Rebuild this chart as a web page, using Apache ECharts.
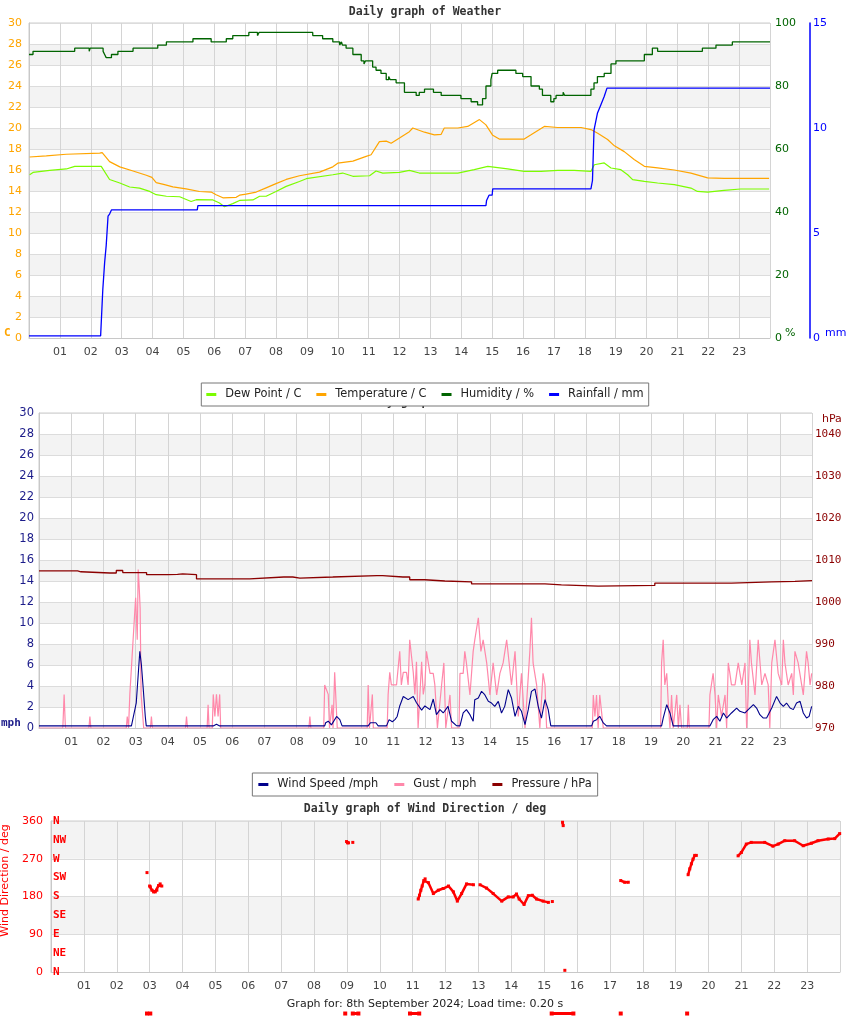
<!DOCTYPE html>
<html>
<head>
<meta charset="utf-8">
<script src="https://cdn.jsdelivr.net/npm/echarts@6/dist/echarts.min.js"></script>
<style>html,body{margin:0;padding:0;background:#fff}#c{width:850px;height:1017px}</style>
</head>
<body>
<div id="c"></div>
<script>
// ---------- DATA (hour of day, value) ----------
var hourTicks = ['01','02','03','04','05','06','07','08','09','10','11','12','13','14','15','16','17','18','19','20','21','22','23'];
var compassLabels = ['N','NE','E','SE','S','SW','W','NW','N'];

var dewPoint = [[0.02,15.55],[0.13,15.77],[0.67,15.96],[1.21,16.1],[1.48,16.34],[2.34,16.35],[2.37,16.4],[2.61,15.1],[2.94,14.76],[3.26,14.38],[3.58,14.28],[3.91,13.96],[4.12,13.65],[4.45,13.5],[4.88,13.45],[5.25,13.0],[5.42,13.17],[5.96,13.15],[6.17,12.85],[6.33,12.5],[6.6,12.8],[6.82,13.1],[7.25,13.15],[7.47,13.5],[7.68,13.5],[8.0,13.96],[8.33,14.44],[8.76,14.9],[8.98,15.17],[9.84,15.55],[10.16,15.71],[10.49,15.4],[11.03,15.45],[11.24,15.9],[11.46,15.7],[12.0,15.77],[12.32,15.96],[12.64,15.71],[13.35,15.71],[13.89,15.71],[14.42,16.03],[14.86,16.34],[15.5,16.1],[16.04,15.87],[16.58,15.87],[17.12,15.96],[17.66,15.96],[18.2,15.87],[18.31,16.5],[18.63,16.67],[18.85,16.19],[19.17,16.03],[19.39,15.55],[19.55,15.08],[19.93,14.92],[20.36,14.76],[20.9,14.6],[21.44,14.28],[21.65,13.96],[21.98,13.9],[22.51,14.06],[23.05,14.19],[23.97,14.19]];

var temperature = [[0.02,17.24],[0.56,17.35],[1.21,17.5],[2.29,17.6],[2.37,17.65],[2.61,16.8],[2.94,16.3],[3.37,15.9],[3.8,15.5],[3.98,15.3],[4.12,14.8],[4.39,14.6],[4.66,14.4],[5.09,14.2],[5.52,13.95],[5.9,13.9],[6.06,13.65],[6.28,13.35],[6.71,13.4],[6.82,13.6],[7.03,13.7],[7.36,13.9],[7.68,14.3],[8.0,14.7],[8.33,15.1],[8.76,15.45],[9.41,15.8],[9.84,16.3],[10.0,16.65],[10.49,16.85],[10.92,17.3],[11.08,17.45],[11.35,18.7],[11.57,18.75],[11.73,18.55],[12.0,19.05],[12.32,19.65],[12.43,20.0],[12.81,19.6],[13.13,19.35],[13.35,19.4],[13.45,20.0],[13.89,20.0],[14.21,20.15],[14.59,20.8],[14.8,20.3],[15.02,19.3],[15.23,18.95],[16.04,18.95],[16.26,19.35],[16.69,20.15],[17.12,20.05],[17.88,20.05],[18.2,19.85],[18.42,19.5],[18.74,18.9],[18.96,18.3],[19.28,17.75],[19.6,17.0],[19.93,16.35],[20.36,16.2],[20.9,16.0],[21.44,15.7],[21.98,15.25],[22.51,15.2],[23.97,15.2]];

var humidity = [[0,90],[0.13,91],[1.48,92],[1.95,91],[1.98,92],[2.4,91],[2.45,90],[2.5,89],[2.67,90],[2.88,91],[3.37,92],[4.17,93],[4.45,94],[5.31,95],[5.9,94],[6.39,95],[6.6,96],[7.12,97],[7.4,96],[7.45,97],[9.19,96],[9.51,95],[9.84,94],[10.06,93],[10.12,94],[10.15,93],[10.27,92],[10.49,90],[10.76,88],[10.85,87],[10.9,88],[11.13,86],[11.24,85],[11.4,84],[11.57,82],[11.65,83],[11.7,82],[11.89,81],[12.16,78],[12.54,77],[12.64,78],[12.81,79],[13.1,78],[13.35,77],[13.99,76],[14.32,75],[14.53,74],[14.69,76],[14.8,80],[14.96,82],[15.0,84],[15.18,85],[15.77,84],[15.99,83],[16.26,80],[16.53,79],[16.63,77],[16.9,75],[17.0,76],[17.07,77],[17.3,78],[17.35,77],[18.2,79],[18.3,81],[18.41,83],[18.63,84],[18.85,87],[19.01,88],[19.93,90],[20.19,92],[20.36,91],[21.81,92],[22.25,93],[22.78,94],[24,94]];

var rainfall = [[0,0.1],[2.32,0.1],[2.39,2.3],[2.45,3.6],[2.5,4.4],[2.56,5.8],[2.61,5.9],[2.67,6.1],[5.45,6.1],[5.47,6.3],[14.8,6.3],[14.82,6.55],[14.88,6.55],[14.9,6.8],[15.0,6.8],[15.02,7.1],[18.2,7.1],[18.25,7.5],[18.3,9.9],[18.41,10.7],[18.52,11.1],[18.63,11.5],[18.72,11.9],[24,11.9]];

var windSpeed = [[0,0.2],[2.87,0.2],[3.02,2.4],[3.13,7.3],[3.18,6.0],[3.23,4.0],[3.3,1.1],[3.33,0.2],[5.41,0.2],[5.51,0.35],[5.61,0.2],[8.87,0.2],[8.9,0.5],[8.98,0.65],[9.08,0.3],[9.13,0.25],[9.24,1.1],[9.34,0.8],[9.41,0.2],[10.22,0.2],[10.29,0.5],[10.46,0.5],[10.53,0.2],[10.79,0.2],[10.87,0.8],[10.97,0.6],[11.05,0.8],[11.12,1.1],[11.2,2.1],[11.31,3.0],[11.36,3.1],[11.46,2.7],[11.62,3.0],[11.72,2.4],[11.88,1.7],[11.98,2.1],[12.14,1.75],[12.24,2.76],[12.34,1.27],[12.45,1.75],[12.55,1.43],[12.7,2.06],[12.81,0.64],[12.96,0.22],[13.07,0.2],[13.17,1.43],[13.27,1.75],[13.38,1.27],[13.48,0.64],[13.53,2.7],[13.64,2.86],[13.74,3.49],[13.84,3.17],[13.95,2.54],[14.05,2.38],[14.15,2.06],[14.26,2.54],[14.36,1.43],[14.46,2.06],[14.57,3.65],[14.67,2.86],[14.78,1.11],[14.88,2.06],[14.98,1.59],[15.09,0.32],[15.19,1.75],[15.29,3.49],[15.4,3.71],[15.5,2.06],[15.6,0.95],[15.71,2.7],[15.81,1.75],[15.89,0.2],[17.16,0.2],[17.21,0.64],[17.31,0.79],[17.41,1.11],[17.52,0.48],[17.62,0.2],[19.33,0.2],[19.38,0.95],[19.49,2.22],[19.59,1.43],[19.69,0.2],[20.83,0.2],[20.93,0.79],[21.04,1.11],[21.14,0.64],[21.25,1.43],[21.35,0.95],[21.5,1.43],[21.66,1.9],[21.76,1.59],[21.92,1.43],[22.02,1.75],[22.18,2.22],[22.28,1.9],[22.38,1.27],[22.49,0.95],[22.59,0.95],[22.75,1.9],[22.9,3.01],[23.01,2.38],[23.11,2.06],[23.21,2.38],[23.32,1.9],[23.42,1.75],[23.52,2.38],[23.63,2.54],[23.73,1.43],[23.83,0.95],[23.91,1.11],[23.99,2.06]];

var gust = [[0,0],[0.74,0],[0.78,3.2],[0.82,0],[1.55,0],[1.58,1.1],[1.61,0],[2.71,0],[2.74,1.1],[2.78,0],[2.8,0],[2.82,3.2],[2.87,3.2],[2.9,7.3],[2.95,7.3],[3.0,12.4],[3.05,8.4],[3.08,15.1],[3.11,13.5],[3.14,11.4],[3.17,3.2],[3.21,3.2],[3.25,0],[3.46,0],[3.49,1.1],[3.52,0],[4.55,0],[4.58,1.1],[4.61,0],[5.22,0],[5.25,2.2],[5.28,0],[5.38,0],[5.41,3.2],[5.46,1.1],[5.51,3.2],[5.56,1.1],[5.61,3.2],[5.64,0],[8.38,0],[8.41,1.1],[8.44,0],[8.84,0],[8.87,4.1],[8.92,4.1],[8.98,3.2],[9.02,0],[9.08,0],[9.1,2.2],[9.13,0],[9.18,5.3],[9.26,0],[10.19,0],[10.22,4.1],[10.26,0],[10.32,0],[10.35,3.2],[10.38,0],[10.81,0],[10.84,3.2],[10.89,5.3],[10.94,4.1],[11.0,4.1],[11.1,4.1],[11.2,7.3],[11.25,4.1],[11.31,5.3],[11.41,5.3],[11.46,4.1],[11.51,8.4],[11.62,5.3],[11.67,3.2],[11.72,6.3],[11.77,0],[11.88,6.3],[11.93,3.2],[11.98,4.1],[12.03,7.3],[12.14,5.2],[12.24,5.2],[12.29,4.1],[12.37,0],[12.5,4.1],[12.57,6.2],[12.63,0],[12.76,3.15],[12.81,0],[13.04,0],[13.07,5.2],[13.17,5.2],[13.22,7.3],[13.27,6.2],[13.38,3.15],[13.48,7.3],[13.53,8.4],[13.64,10.5],[13.72,7.3],[13.79,8.4],[13.9,6.2],[14.0,3.15],[14.1,6.2],[14.21,3.15],[14.31,5.2],[14.41,6.2],[14.52,8.4],[14.57,8.4],[14.67,4.1],[14.78,7.3],[14.88,1.1],[14.98,5.2],[15.09,0],[15.14,0],[15.24,7.3],[15.29,10.5],[15.34,6.2],[15.45,4.1],[15.55,0],[15.65,5.2],[15.71,4.1],[15.76,0],[17.18,0],[17.21,3.15],[17.26,1.1],[17.31,3.15],[17.36,0],[17.41,3.15],[17.47,3.15],[17.52,0],[19.3,0],[19.33,6.2],[19.38,8.4],[19.43,4.1],[19.49,5.2],[19.54,2.2],[19.59,0],[19.64,3.15],[19.69,0],[19.8,3.15],[19.85,0],[19.9,2.2],[19.95,0],[20.13,0],[20.16,2.2],[20.19,0],[20.8,0],[20.83,3.15],[20.88,3.15],[20.93,5.2],[20.99,3.15],[21.04,0],[21.09,3.15],[21.19,1.1],[21.3,3.15],[21.35,0],[21.4,6.2],[21.45,5.2],[21.5,4.1],[21.61,4.1],[21.71,6.2],[21.82,4.1],[21.92,6.2],[21.97,0],[22.02,3.15],[22.07,8.4],[22.12,6.2],[22.23,3.15],[22.33,8.4],[22.44,4.1],[22.54,5.2],[22.64,4.1],[22.69,0],[22.75,6.2],[22.85,8.4],[22.95,5.2],[23.06,4.1],[23.11,8.4],[23.16,6.2],[23.26,4.1],[23.37,5.2],[23.42,3.15],[23.47,7.3],[23.57,6.2],[23.68,4.1],[23.73,3.15],[23.83,7.3],[23.88,6.2],[23.94,4.1],[23.99,5.2]];

var pressure = [[0,1007.4],[1.2,1007.2],[1.3,1006.9],[2.2,1006.9],[2.4,1007.5],[2.6,1007.0],[3.03,1007.0],[3.34,1006.5],[4.0,1006.6],[4.3,1006.7],[4.46,1006.5],[4.89,1005.5],[6.3,1005.5],[6.54,1005.95],[7.6,1005.95],[7.88,1005.7],[8.1,1005.95],[9.12,1006.3],[10.49,1006.3],[10.67,1005.95],[11.3,1005.95],[11.51,1005.3],[11.98,1005.0],[12.6,1004.8],[13.43,1004.3],[15.19,1004.3],[15.71,1004.1],[16.22,1003.8],[17.36,1003.95],[19.12,1004.5],[21.5,1004.8],[22.75,1004.9],[23.47,1005.1],[24,1005.1]];

var windDir = [[2.92,237],null,[3.0,205],[3.02,203],[3.07,195],[3.12,191],[3.17,191],[3.22,195],[3.27,206],[3.32,210],[3.37,205],null,[8.99,311],[9.02,308],[9.05,308],null,[9.18,309],null,[11.17,174],[11.21,183],[11.25,195],[11.29,205],[11.34,218],[11.38,222],[11.48,213],[11.63,187],[11.78,195],[11.93,199],[12.09,205],[12.24,191],[12.36,169],[12.49,187],[12.64,210],[12.85,208],null,[13.05,208],[13.25,200],[13.45,187],[13.71,169],[13.91,179],[14.06,179],[14.16,186],[14.24,174],[14.39,161],[14.52,182],[14.64,183],[14.77,174],[14.97,169],[15.13,166],null,[15.25,168],null,[15.56,357],[15.58,349],null,[15.63,4],null,[17.33,218],[17.45,214],[17.56,214],null,[19.38,232],[19.43,246],[19.48,258],[19.53,269],[19.58,278],[19.63,278],null,[20.9,277],[21.0,285],[21.15,305],[21.3,309],[21.71,309],[21.96,300],[22.12,305],[22.32,313],[22.62,313],[22.88,301],[23.13,307],[23.33,313],[23.64,317],[23.84,318],[23.99,330]];

var windDirLow = [[2.92,-99],[3.02,-99],null,[8.95,-99],null,[9.18,-99],[9.35,-99],null,[10.92,-99],[11.2,-99],null,[15.23,-99],[15.89,-99],null,[17.33,-99],null,[19.35,-99]];

// ---------- CHART ----------
function hourLabel(v){ var i = Math.round(v); return (i>0 && i<24) ? hourTicks[i-1] : ''; }
var F = 'DejaVu Sans', M = 'DejaVu Sans Mono';
function xAx(g){
  return {type:'value', gridIndex:g, min:0, max:24, interval:1,
    axisLine:{show:true, lineStyle:{color:'#c8c8c8'}}, axisTick:{show:false},
    axisLabel:{formatter:hourLabel, color:'#444', fontSize:11, fontFamily:F, margin:9},
    splitLine:{show:true, lineStyle:{color:'#d4d4d4', width:1}}};
}
var band = {show:true, areaStyle:{color:['#ffffff','#f3f3f3']}};
var split = {show:true, lineStyle:{color:'#dcdcdc', width:1}};
var legendText = {fontFamily:F, fontSize:11.4, color:'#222', padding:[0,0,0,4]};

var chart = echarts.init(document.getElementById('c'), null, {renderer:'canvas'});
chart.setOption({
  animation:false,
  backgroundColor:'#fff',
  title:[
    {text:'Daily graph of Weather', left:'center', top:6, padding:0, z:1, textStyle:{fontFamily:M, fontWeight:'bold', fontSize:11.5, color:'#333'}},
    {text:'Daily graph of Wind', left:'center', top:396, padding:0, z:1, textStyle:{fontFamily:M, fontWeight:'bold', fontSize:11.5, color:'#333'}},
    {text:'Daily graph of Wind Direction / deg', left:'center', top:803, padding:0, z:1, textStyle:{fontFamily:M, fontWeight:'bold', fontSize:11.5, color:'#333'}}
  ],
  legend:[
    {data:['Dew Point / C','Temperature / C','Humidity / %','Rainfall / mm'], left:'center', top:383, z:20,
     backgroundColor:'#fff', borderColor:'#777', borderWidth:1, padding:[6,5,6,5], itemGap:15,
     icon:'rect', itemWidth:10, itemHeight:3, textStyle:legendText},
    {data:['Wind Speed /mph','Gust / mph','Pressure / hPa'], left:'center', top:773, z:20,
     backgroundColor:'#fff', borderColor:'#777', borderWidth:1, padding:[6,6,6,6], itemGap:16,
     icon:'rect', itemWidth:10, itemHeight:3, textStyle:legendText}
  ],
  grid:[
    {left:29, top:23, width:741, height:315, show:true, borderColor:'#cccccc', borderWidth:1, containLabel:false, outerBoundsMode:'none'},
    {left:39, top:413, width:773, height:315, show:true, borderColor:'#cccccc', borderWidth:1, containLabel:false, outerBoundsMode:'none'},
    {left:51, top:821, width:789, height:151, show:true, borderColor:'#cccccc', borderWidth:1, containLabel:false, outerBoundsMode:'none'}
  ],
  xAxis:[xAx(0), xAx(1), xAx(2)],
  yAxis:[
    {type:'value', gridIndex:0, position:'left', min:0, max:30, interval:2,
     axisLine:{show:true, lineStyle:{color:'#c8c8c8'}}, axisTick:{show:false},
     axisLabel:{color:'#ffa500', fontSize:11, fontFamily:F, margin:7}, splitLine:split, splitArea:band},
    {type:'value', gridIndex:0, position:'right', min:0, max:100, interval:20,
     axisLine:{show:false}, axisTick:{show:false},
     axisLabel:{color:'#006400', fontSize:11, fontFamily:F, margin:5}, splitLine:{show:false}},
    {type:'value', gridIndex:0, position:'right', offset:40, min:0, max:15, interval:5,
     axisLine:{show:true, lineStyle:{color:'#0000ff', width:1.5}}, axisTick:{show:false},
     axisLabel:{color:'#0000ff', fontSize:11, fontFamily:F, margin:3}, splitLine:{show:false}},
    {type:'value', gridIndex:1, position:'left', min:0, max:30, interval:2,
     axisLine:{show:true, lineStyle:{color:'#c8c8c8'}}, axisTick:{show:false},
     axisLabel:{color:'#1c1c8a', fontSize:11.5, fontFamily:F, margin:5}, splitLine:split, splitArea:band},
    {type:'value', gridIndex:1, position:'right', min:970, max:1045, interval:10,
     axisLine:{show:false}, axisTick:{show:false},
     axisLabel:{color:'#8b0000', fontSize:11, fontFamily:M, margin:3, showMaxLabel:false, formatter:function(v){return String(v);}}, splitLine:{show:false}},
    {type:'value', gridIndex:2, position:'left', min:0, max:360, interval:90,
     name:'Wind Direction / deg', nameLocation:'middle', nameRotate:90, nameGap:31,
     nameTextStyle:{color:'#ff0000', fontSize:11, fontFamily:F, padding:[0,0,0,32]},
     axisLine:{show:true, lineStyle:{color:'#c8c8c8'}}, axisTick:{show:false},
     axisLabel:{color:'#ff0000', fontSize:11, fontFamily:F, margin:8}, splitLine:split, splitArea:band},
    {type:'value', gridIndex:2, position:'left', offset:0, min:0, max:360, interval:45,
     axisLine:{show:false}, axisTick:{show:false},
     axisLabel:{inside:true, margin:2, color:'#ff0000', fontSize:11, fontWeight:'bold', fontFamily:M,
       formatter:function(v){ return compassLabels[Math.round(v/45)] || ''; }},
     splitLine:{show:false}}
  ],
  graphic:[
    {type:'text', x:4, y:333, style:{text:'C', fill:'#ffa500', font:'bold 11px DejaVu Sans Mono', align:'left', verticalAlign:'middle'}},
    {type:'text', x:785, y:333, style:{text:'%', fill:'#006400', font:'11px DejaVu Sans', align:'left', verticalAlign:'middle'}},
    {type:'text', x:825, y:333, style:{text:'mm', fill:'#0000ff', font:'11px DejaVu Sans', align:'left', verticalAlign:'middle'}},
    {type:'text', x:822, y:419, style:{text:'hPa', fill:'#8b0000', font:'11px DejaVu Sans', align:'left', verticalAlign:'middle'}},
    {type:'text', x:1, y:723, style:{text:'mph', fill:'#1c1c8a', font:'bold 11px DejaVu Sans Mono', align:'left', verticalAlign:'middle'}},
    {type:'text', x:425, y:1004, style:{text:'Graph for: 8th September 2024; Load time: 0.20 s', fill:'#222', font:'11px DejaVu Sans', align:'center', verticalAlign:'middle'}}
  ],
  series:[
    {name:'Dew Point / C', type:'line', xAxisIndex:0, yAxisIndex:0, data:dewPoint, showSymbol:false, color:'#7cfc00', lineStyle:{width:1.2}},
    {name:'Temperature / C', type:'line', xAxisIndex:0, yAxisIndex:0, data:temperature, showSymbol:false, color:'#ffa500', lineStyle:{width:1.2}},
    {name:'Humidity / %', type:'line', xAxisIndex:0, yAxisIndex:1, data:humidity, step:'end', showSymbol:false, color:'#006400', lineStyle:{width:1.3}},
    {name:'Rainfall / mm', type:'line', xAxisIndex:0, yAxisIndex:2, data:rainfall, showSymbol:false, color:'#0000ff', lineStyle:{width:1.3}},
    {name:'Gust / mph', type:'line', xAxisIndex:1, yAxisIndex:3, data:gust, showSymbol:false, color:'#ff88aa', lineStyle:{width:1.2}, z:2},
    {name:'Wind Speed /mph', type:'line', xAxisIndex:1, yAxisIndex:3, data:windSpeed, showSymbol:false, color:'#00008b', lineStyle:{width:1.1}, z:3},
    {name:'Pressure / hPa', type:'line', xAxisIndex:1, yAxisIndex:4, data:pressure, step:'end', showSymbol:false, color:'#8b0000', lineStyle:{width:1.3}, z:3},
    {name:'Wind Direction', type:'line', xAxisIndex:2, yAxisIndex:5, data:windDir, connectNulls:false, symbol:'rect', symbolSize:3, showSymbol:true, color:'#ff0000', lineStyle:{width:2.5}},
    {name:'Wind Direction low', type:'line', xAxisIndex:2, yAxisIndex:5, data:windDirLow, connectNulls:false, clip:false, symbol:'rect', symbolSize:4, showSymbol:true, color:'#ff0000', lineStyle:{width:3}}
  ]
});
</script>
</body>
</html>
